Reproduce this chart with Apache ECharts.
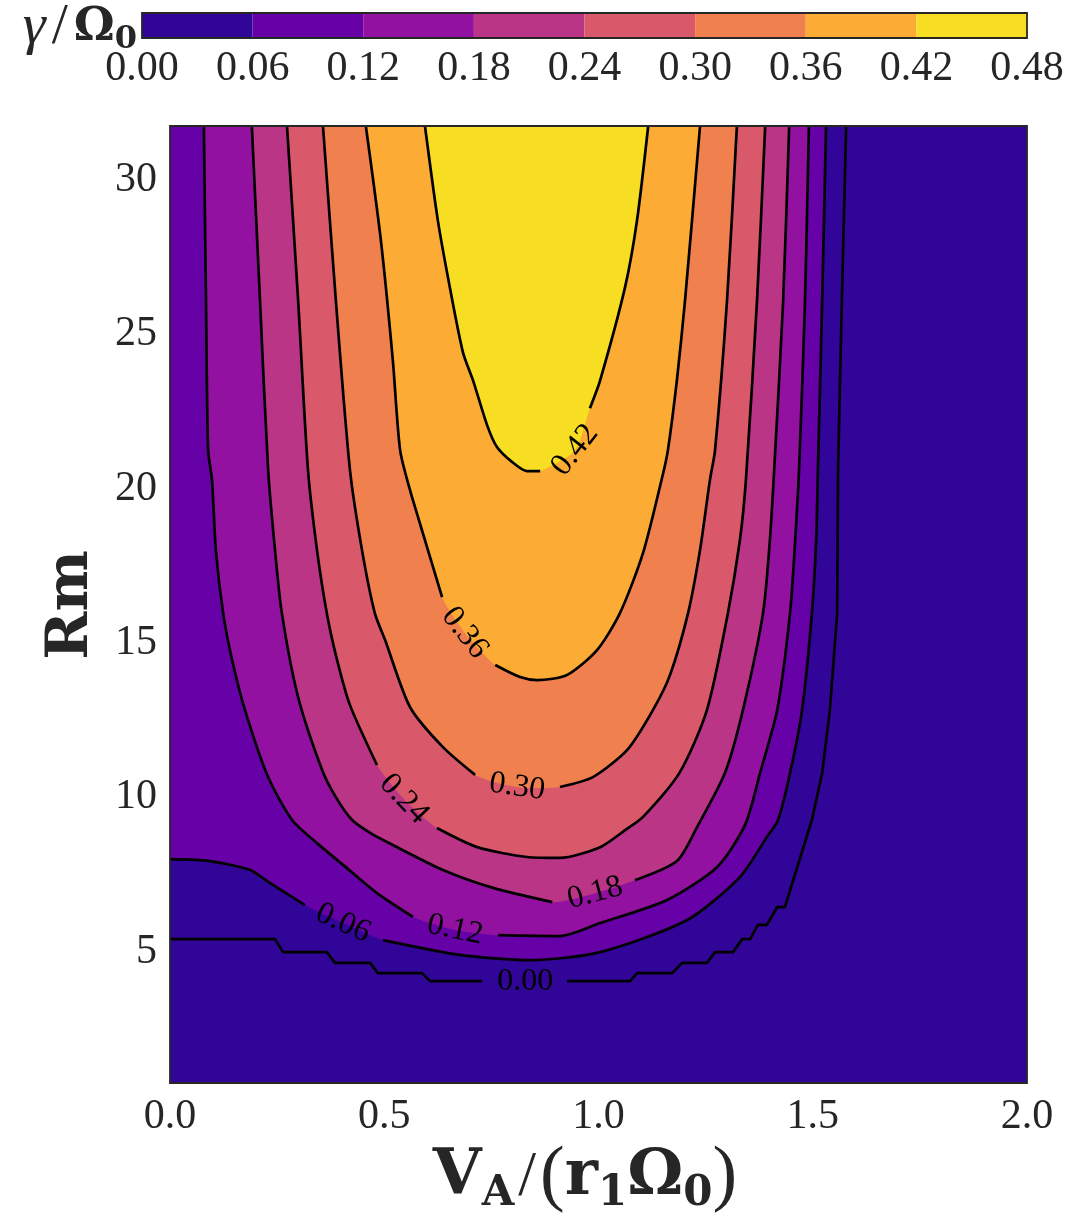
<!DOCTYPE html>
<html><head><meta charset="utf-8">
<script src="https://cdn.jsdelivr.net/npm/echarts@6/dist/echarts.min.js"></script>
<style>html,body{margin:0;padding:0;background:#fff;}#c{width:1079px;height:1226px;}</style>
</head><body><div id="c"></div>
<script>
// contour levels of gamma/Omega0 and the colour of each filled band
const levels = [0.00, 0.06, 0.12, 0.18, 0.24, 0.30, 0.36, 0.42, 0.48];
const bandColors = ['#310597', '#6501a7', '#9311a1', '#bb3587', '#d9596a', '#f0804e', '#fcab34', '#f7de23'];
const xTicks = [0.0, 0.5, 1.0, 1.5, 2.0];
const yTicks = [5, 10, 15, 20, 25, 30];

// contour lines as [V_A/(r1 Omega0), Rm]; a = before inline label, m = label point, b = after label
const c000a = [[0,5.41],[0.245,5.41],[0.264,4.99],[0.366,4.99],[0.385,4.64],[0.467,4.64],[0.485,4.31],[0.588,4.31],[0.607,4.05],[0.728,4.05]];
const c000m = [[0.829,4.05]];
const c000b = [[0.927,4.05],[1.074,4.05],[1.090,4.31],[1.172,4.31],[1.195,4.64],[1.253,4.64],[1.272,4.99],[1.314,4.99],[1.335,5.41],[1.354,5.41],[1.372,5.87],[1.393,5.87],[1.417,6.45],[1.435,6.45],[1.498,9.27],[1.522,10.79],[1.540,12.83],[1.557,15.97],[1.559,20.61],[1.568,26.11],[1.578,31.75]];

const c006a = [[0,8.00],[0.093,7.94],[0.187,7.65],[0.233,7.23],[0.315,6.51]];
const c006m = [[0.404,5.93]];
const c006b = [[0.497,5.38],[0.677,4.90],[0.840,4.73],[1.004,4.99],[1.207,6.03],[1.330,7.42],[1.393,8.72],[1.419,9.27],[1.447,10.79],[1.475,12.83],[1.498,15.97],[1.508,18.34],[1.512,20.61],[1.522,26.11],[1.531,31.75]];

const c012a = [[0.079,31.75],[0.084,26.11],[0.089,21.25],[0.098,20.28],[0.107,18.02],[0.124,15.97],[0.145,14.45],[0.175,12.83],[0.229,10.66],[0.285,9.27],[0.343,8.52],[0.413,7.71],[0.483,6.90],[0.567,6.13]];
const c012m = [[0.665,5.71]];
const c012b = [[0.766,5.54],[0.910,5.51],[1.004,5.93],[1.160,6.68],[1.277,7.75],[1.342,9.11],[1.377,10.79],[1.417,12.83],[1.447,15.97],[1.459,18.34],[1.468,20.61],[1.482,26.11],[1.491,31.75]];

const c018a = [[0.191,31.75],[0.210,26.11],[0.229,20.61],[0.245,18.02],[0.261,15.97],[0.299,13.25],[0.355,10.89],[0.387,10.01],[0.425,9.27],[0.471,8.82],[0.520,8.46],[0.637,7.65],[0.754,7.07],[0.892,6.61]];
const c018m = [[0.992,6.90]];
const c018b = [[1.085,7.32],[1.183,7.94],[1.230,9.04],[1.295,10.79],[1.337,12.83],[1.384,15.97],[1.400,18.34],[1.410,20.61],[1.431,26.11],[1.445,31.75]];

const c024a = [[0.273,31.75],[0.299,26.11],[0.322,20.61],[0.343,18.02],[0.366,15.97],[0.390,14.45],[0.420,12.99],[0.483,11.05]];
const c024m = [[0.546,9.95]];
const c024b = [[0.623,9.01],[0.717,8.39],[0.833,8.07],[0.910,8.04],[1.004,8.39],[1.062,8.94],[1.104,9.37],[1.190,10.82],[1.253,12.83],[1.302,15.97],[1.330,18.34],[1.344,20.28],[1.370,26.11],[1.389,31.75]];

const c030a = [[0.357,31.75],[0.387,26.11],[0.420,20.61],[0.448,18.02],[0.478,15.97],[0.502,15.10],[0.560,12.93],[0.637,11.63],[0.712,10.73]];
const c030m = [[0.810,10.34]];
const c030b = [[0.910,10.34],[0.987,10.66],[1.067,11.54],[1.127,12.83],[1.167,13.97],[1.209,15.97],[1.237,18.02],[1.260,20.28],[1.272,21.25],[1.300,26.11],[1.323,31.75]];

const c036a = [[0.457,31.75],[0.492,28.06],[0.520,24.17],[0.537,21.25],[0.560,19.96],[0.583,18.89],[0.635,16.49]];
const c036m = [[0.688,15.33]];
const c036b = [[0.759,14.29],[0.817,13.90],[0.857,13.80],[0.927,13.97],[0.997,14.78],[1.050,15.97],[1.104,17.92],[1.151,20.51],[1.162,21.25],[1.183,23.52],[1.202,26.11],[1.237,31.75]];

const c042a = [[0.595,31.75],[0.625,28.70],[0.653,26.53],[0.684,24.40],[0.707,23.52],[0.740,22.06],[0.763,21.35],[0.798,20.87],[0.833,20.57],[0.864,20.57]];
const c042m = [[0.945,21.25]];
const c042b = [[0.980,22.61],[1.004,23.52],[1.062,26.53],[1.090,28.70],[1.116,31.75]];

const VA_MIN = 0, VA_MAX = 2, RM_MIN = 0.75, RM_MAX = 31.75;

const contourSets = [
  {level: levels[0], a: c000a, m: c000m, b: c000b},
  {level: levels[1], a: c006a, m: c006m, b: c006b},
  {level: levels[2], a: c012a, m: c012m, b: c012b},
  {level: levels[3], a: c018a, m: c018m, b: c018b},
  {level: levels[4], a: c024a, m: c024m, b: c024b},
  {level: levels[5], a: c030a, m: c030m, b: c030b},
  {level: levels[6], a: c036a, m: c036m, b: c036b},
  {level: levels[7], a: c042a, m: c042m, b: c042b}
];

const SERIF = '"Liberation Serif", "Times New Roman", serif';
const BSERIF = '"DejaVu Serif", serif';
const TXT = '#262626';
const SMOOTH = 0.25;

const chart = echarts.init(document.getElementById('c'));
const series = [];

// filled bands (superlevel sets drawn in ascending order); closed outside the clipped plot area
series.push({
  type: 'custom', xAxisIndex: 0, yAxisIndex: 0, z: 1, silent: true, animation: false, clip: true,
  data: bandColors.map(() => [VA_MIN, RM_MIN]),
  renderItem(params, api) {
    const i = params.dataIndex;
    const cs = params.coordSys;
    if (i === 0) {
      return {type: 'rect', shape: {x: cs.x, y: cs.y, width: cs.width, height: cs.height}, style: {fill: bandColors[0]}};
    }
    const s = contourSets[i];
    const line = s.a.concat(s.m, s.b).map(p => api.coord(p));
    const first = line[0], last = line[line.length - 1];
    const out = 300;
    const onLeft = Math.abs(first[0] - cs.x) < 1;
    const closing = [
      [last[0], last[1] - out],
      [cs.x - out, cs.y - out],
      onLeft ? [cs.x - out, first[1]] : [first[0], first[1] - out]
    ];
    return {type: 'polygon', shape: {points: line.concat(closing), smooth: SMOOTH}, style: {fill: bandColors[i]}};
  }
});

// contour lines
contourSets.forEach(s => {
  [s.a, s.b].forEach(seg => {
    series.push({
      type: 'line', xAxisIndex: 0, yAxisIndex: 0, data: seg, symbol: 'none', showSymbol: false,
      smooth: s.level === 0 ? false : SMOOTH,
      lineStyle: {color: '#000', width: 2.7}, z: 3, silent: true, animation: false
    });
  });
});

// inline contour labels
series.push({
  type: 'custom', xAxisIndex: 0, yAxisIndex: 0, z: 4, silent: true, animation: false,
  data: contourSets.map(s => s.m[0]),
  renderItem(params, api) {
    const s = contourSets[params.dataIndex];
    const p0 = api.coord(s.a[s.a.length - 1]);
    const p1 = api.coord(s.b[0]);
    const c = api.coord(s.m[0]);
    let ang = Math.atan2(p1[1] - p0[1], p1[0] - p0[0]);
    if (ang > Math.PI / 2) ang -= Math.PI;
    if (ang < -Math.PI / 2) ang += Math.PI;
    return {
      type: 'text', x: c[0], y: c[1], rotation: -ang,
      style: {text: s.level.toFixed(2), font: '32px ' + SERIF, fill: '#000', align: 'center', verticalAlign: 'middle'}
    };
  }
});

// frames
[0, 1].forEach(g => {
  series.push({
    type: 'custom', xAxisIndex: g, yAxisIndex: g, z: 6, silent: true, animation: false,
    data: [[g === 0 ? VA_MIN : 0, 0.9]],
    renderItem(params) {
      const cs = params.coordSys;
      return {type: 'rect', shape: {x: cs.x, y: cs.y, width: cs.width, height: cs.height},
        style: {fill: 'none', stroke: '#262626', lineWidth: 1.8}};
    }
  });
});

// colorbar bands
series.push({
  type: 'custom', xAxisIndex: 1, yAxisIndex: 1, z: 1, silent: true, animation: false,
  data: bandColors.map((c, i) => [levels[i], levels[i + 1]]),
  renderItem(params, api) {
    const a = api.coord([api.value(0), 0]);
    const b = api.coord([api.value(1), 1]);
    return {type: 'rect', shape: {x: a[0], y: b[1], width: b[0] - a[0], height: a[1] - b[1]},
      style: {fill: bandColors[params.dataIndex]}};
  }
});

const labelStyle = {fontSize: 42, fontFamily: SERIF, color: TXT};

chart.setOption({
  animation: false,
  backgroundColor: '#fff',
  grid: [
    {left: 170, top: 126, width: 857, height: 957, containLabel: false},
    {left: 142, top: 13, width: 885, height: 25, containLabel: false}
  ],
  xAxis: [
    {gridIndex: 0, type: 'value', min: VA_MIN, max: VA_MAX, interval: 0.5,
      axisLine: {show: false}, axisTick: {show: false}, splitLine: {show: false},
      axisLabel: Object.assign({customValues: xTicks, formatter: v => v.toFixed(1), margin: 13}, labelStyle)},
    {gridIndex: 1, type: 'value', min: 0, max: 0.48, interval: 0.06,
      axisLine: {show: false}, axisTick: {show: false}, splitLine: {show: false},
      axisLabel: Object.assign({customValues: levels, formatter: v => v.toFixed(2), margin: 10}, labelStyle)}
  ],
  yAxis: [
    {gridIndex: 0, type: 'value', min: RM_MIN, max: RM_MAX,
      axisLine: {show: false}, axisTick: {show: false}, splitLine: {show: false},
      axisLabel: Object.assign({customValues: yTicks, formatter: v => String(v), margin: 13}, labelStyle)},
    {gridIndex: 1, type: 'value', min: 0, max: 1, show: false, splitLine: {show: false}}
  ],
  graphic: [
    {type: 'text', x: 72, y: 605, rotation: Math.PI / 2,
      style: {text: 'Rm', font: 'bold 58px ' + BSERIF, fill: TXT, align: 'center', verticalAlign: 'middle'}},
    {type: 'text', x: 585, y: 1178,
      style: {
        text: '{b|V}{s|A}{n|/}{p|(}{b|r}{s|1}{b|Ω}{s|0}{p|)}',
        align: 'center', verticalAlign: 'middle',
        rich: {
          b: {font: 'bold 63px ' + BSERIF, fill: TXT, lineHeight: 74},
          s: {font: 'bold 42px ' + BSERIF, fill: TXT, lineHeight: 30, verticalAlign: 'bottom'},
          n: {font: '64px ' + SERIF, fill: TXT, lineHeight: 74, padding: [0, 4, 0, 4]},
          p: {font: '74px ' + SERIF, fill: TXT, lineHeight: 74}
        }
      }},
    {type: 'text', x: 137, y: 28,
      style: {
        text: '{g|γ}{n|/}{b|Ω}{s|0}',
        align: 'right', verticalAlign: 'middle',
        rich: {
          g: {font: 'italic 58px ' + SERIF, fill: TXT, lineHeight: 56},
          n: {font: '58px ' + SERIF, fill: TXT, lineHeight: 56, padding: [0, 6, 0, 6]},
          b: {font: 'bold 46px ' + BSERIF, fill: TXT, lineHeight: 56},
          s: {font: 'bold 32px ' + BSERIF, fill: TXT, lineHeight: 26, verticalAlign: 'bottom'}
        }
      }}
  ],
  series: series
});
</script></body></html>
